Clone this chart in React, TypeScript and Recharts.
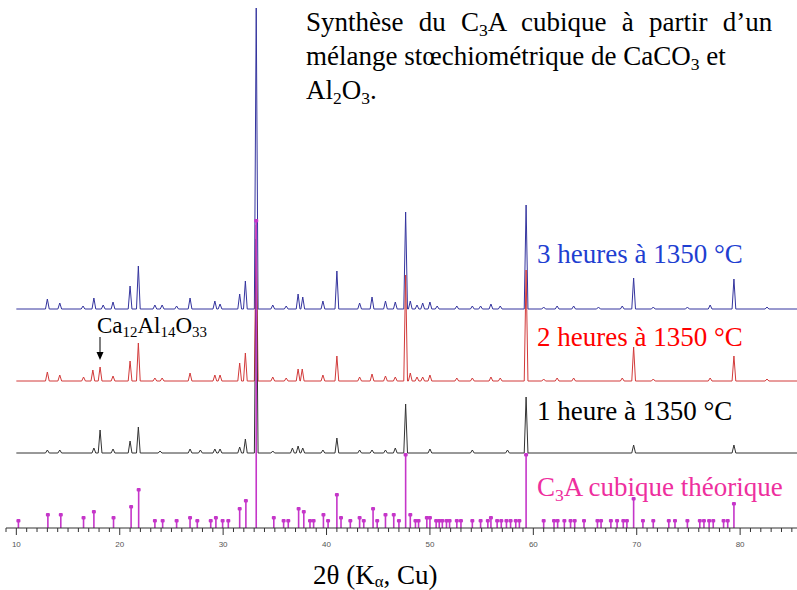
import React from "react";
import { ComposedChart, Line, Scatter, XAxis, YAxis } from "recharts";

// [2θ, height], heights above each pattern's own baseline
const bluePeaks = [
  [13.0, 10], [14.2, 6], [16.45, 3], [17.5, 11], [18.4, 4], [19.35, 7], [21.0, 23], [21.8, 43],
  [23.4, 4], [24.1, 4], [25.5, 3], [26.8, 11], [29.2, 8], [29.7, 5], [31.6, 15], [32.15, 28],
  [33.2, 301], [34.8, 4], [36.1, 3], [37.25, 15], [37.7, 12], [39.65, 8], [41.0, 38], [43.2, 6],
  [44.4, 12], [45.7, 8], [46.65, 7], [47.65, 97], [48.1, 8], [48.75, 4], [49.3, 6], [50.0, 7],
  [50.7, 3], [52.6, 3], [54.1, 3], [54.9, 3], [55.9, 5], [56.8, 3], [59.3, 104], [61.0, 2],
  [62.3, 3], [63.9, 3], [66.3, 2], [68.6, 3], [69.7, 31], [71.6, 2], [74.9, 2], [77.1, 4],
  [79.4, 30], [82.6, 2],
];

const redPeaks = [
  [13.0, 9], [14.2, 6], [16.5, 4], [17.4, 11], [18.1, 14], [19.35, 5], [21.0, 20], [21.8, 38],
  [23.4, 3], [24.1, 3], [26.8, 8], [29.2, 6], [29.7, 6], [31.6, 18], [32.15, 28], [33.2, 156],
  [34.8, 4], [36.1, 3], [37.25, 12], [37.65, 12], [39.65, 6], [41.0, 25], [43.2, 4], [44.4, 7],
  [45.7, 5], [46.65, 4], [47.65, 106], [48.1, 8], [48.75, 4], [49.3, 4], [50.0, 6], [52.6, 3],
  [54.1, 3], [55.9, 4], [56.8, 3], [59.3, 111], [61.0, 2], [62.3, 3], [63.9, 3], [68.6, 3],
  [69.7, 34], [71.6, 2], [77.1, 3], [79.4, 25], [82.6, 2],
];

const blackPeaks = [
  [13.0, 3], [14.2, 3], [17.5, 5], [18.1, 23], [19.35, 4], [21.0, 12], [21.8, 26], [23.9, 2],
  [26.8, 4], [27.8, 3], [29.2, 4], [29.7, 4], [31.6, 6], [32.15, 14], [33.2, 214], [34.8, 2],
  [36.7, 5], [37.25, 7], [37.7, 5], [39.65, 3], [41.0, 15], [43.2, 3], [44.4, 3], [45.7, 3],
  [46.65, 5], [47.65, 49], [50.0, 4], [54.1, 3], [57.5, 3], [59.3, 56], [69.7, 8], [79.4, 8],
];

// theoretical C3A stick pattern
const stickPeaks = [
  [10.2, 7], [13.05, 13], [14.3, 13], [16.5, 10], [17.5, 16], [19.4, 10], [21.1, 21], [21.83, 38],
  [23.4, 7], [24.15, 7], [25.5, 7], [26.8, 10], [27.5, 7], [28.8, 7], [29.3, 10], [29.95, 7],
  [30.5, 7], [31.6, 19], [32.2, 27], [33.2, 307], [34.9, 10], [35.85, 7], [36.3, 7], [37.3, 19],
  [37.8, 16], [38.4, 7], [38.75, 7], [39.7, 13], [40.15, 7], [41.0, 33], [41.4, 10], [42.3, 7],
  [43.2, 10], [43.6, 7], [44.5, 19], [44.9, 7], [45.7, 13], [46.5, 13], [47.0, 7], [47.65, 73],
  [48.1, 13], [48.6, 7], [48.9, 7], [49.7, 10], [50.0, 10], [50.6, 7], [50.9, 7], [51.2, 7],
  [51.6, 7], [51.9, 7], [52.6, 7], [53.0, 7], [54.1, 7], [54.9, 7], [55.6, 7], [55.9, 10],
  [56.5, 7], [56.9, 7], [57.4, 7], [57.8, 7], [58.3, 7], [58.65, 7], [59.3, 73], [61.0, 7],
  [62.0, 7], [62.35, 7], [63.0, 7], [63.6, 7], [64.0, 7], [64.9, 7], [66.2, 7], [66.55, 7],
  [67.5, 7], [68.1, 7], [68.7, 7], [69.05, 7], [69.7, 29], [70.6, 7], [71.6, 7], [73.1, 7],
  [73.7, 7], [74.9, 7], [76.1, 7], [76.5, 7], [77.0, 7], [77.4, 7], [78.4, 7], [78.8, 7],
  [79.4, 24],
];

const xTicks = Array.from({ length: 77 }, (_, i) => 9 + i);

// vertical offsets of the stacked patterns
const BLUE_OFF = 219;
const RED_OFF = 147;
const BLACK_OFF = 75;
const HALF = 0.18;
const X_MIN = 10;
const X_MAX = 85.5;

function buildTrace(peaks: number[][], offset: number) {
  const pts: { x: number; y: number }[] = [{ x: X_MIN, y: offset }];
  peaks.forEach(([p, h]) => {
    pts.push({ x: p - HALF, y: offset }, { x: p, y: offset + h }, { x: p + HALF, y: offset });
  });
  pts.push({ x: X_MAX, y: offset });
  return pts;
}

const blueData = buildTrace(bluePeaks, BLUE_OFF);
const redData = buildTrace(redPeaks, RED_OFF);
const blackData = buildTrace(blackPeaks, BLACK_OFF);
const stickData = stickPeaks.flatMap(([p, h]) => [
  { x: p, y: 0 },
  { x: p, y: h },
  { x: p, y: null },
]);
const stickTops = stickPeaks.map(([p, h]) => ({ x: p, y: h }));

const serif = '"Liberation Serif", "Times New Roman", serif';
const STICK = "#c536c9";

function Tick(props: any) {
  const { x, y, payload } = props;
  const major = payload.value % 10 === 0;
  return (
    <g>
      <line x1={x} x2={x} y1={y} y2={y + (major ? 7 : 4)} stroke="#333" />
      {major && (
        <text
          x={x}
          y={y + 19}
          textAnchor="middle"
          fontSize={8}
          fill="#555"
          fontFamily='"Liberation Sans", Arial, sans-serif'
        >
          {payload.value}
        </text>
      )}
    </g>
  );
}

function Dot(props: any) {
  const { cx, cy } = props;
  return <rect x={cx - 2} y={cy - 2} width={4} height={3.5} rx={1} fill={STICK} />;
}

const sub = { fontSize: "0.65em", verticalAlign: "-0.28em", lineHeight: 0 };
const subLow = { fontSize: "0.62em", verticalAlign: "-0.2em", lineHeight: 0 };

function Label({ left, top, color, children, size = 27, lh = 34 }: any) {
  return (
    <div
      style={{
        position: "absolute",
        left,
        top,
        color,
        fontFamily: serif,
        fontSize: size,
        lineHeight: `${lh}px`,
        whiteSpace: "nowrap",
      }}
    >
      {children}
    </div>
  );
}

export default function App() {
  return (
    <div style={{ position: "absolute", left: 0, top: 0, width: 797, height: 590, background: "#fff" }}>
      <ComposedChart width={797} height={590} margin={{ top: 8, right: 0, bottom: 0, left: 6 }}>
        <XAxis
          type="number"
          dataKey="x"
          domain={[9, 85.5]}
          allowDataOverflow
          ticks={xTicks}
          interval={0}
          tick={<Tick />}
          tickLine={false}
          tickSize={0}
          tickMargin={0}
          height={62}
          axisLine={{ stroke: "#333" }}
        />
        <YAxis hide type="number" domain={[0, 520]} allowDataOverflow />
        <Line data={blueData} dataKey="y" type="linear" stroke="#34349e" strokeWidth={1} dot={false} activeDot={false} isAnimationActive={false} />
        <Line data={redData} dataKey="y" type="linear" stroke="#d23a3a" strokeWidth={1} dot={false} activeDot={false} isAnimationActive={false} />
        <Line data={blackData} dataKey="y" type="linear" stroke="#333" strokeWidth={1} dot={false} activeDot={false} isAnimationActive={false} />
        <Line data={stickData} dataKey="y" type="linear" stroke={STICK} strokeWidth={1.6} dot={false} activeDot={false} connectNulls={false} isAnimationActive={false} />
        <Scatter data={stickTops} dataKey="y" shape={<Dot />} isAnimationActive={false} />
      </ComposedChart>

      <Label left={306} top={5}>
        <span style={{ wordSpacing: 8.5 }}>Synthèse du C<sub style={sub}>3</sub>A cubique à partir d’un</span>
        <br />
        mélange stœchiométrique de CaCO<sub style={sub}>3</sub> et
        <br />
        Al<sub style={sub}>2</sub>O<sub style={sub}>3</sub>.
      </Label>
      <Label left={537} top={237} color="#1f3fd1">3 heures à 1350 °C</Label>
      <Label left={537} top={320} color="#ff0000">2 heures à 1350 °C</Label>
      <Label left={537} top={394} color="#000">1 heure à 1350 °C</Label>
      <Label left={537} top={470} color="#ee2f9e">
        C<sub style={sub}>3</sub>A cubique théorique
      </Label>
      <Label left={97} top={311} color="#000" size={23} lh={30}>
        Ca<sub style={sub}>12</sub>Al<sub style={sub}>14</sub>O<sub style={sub}>33</sub>
      </Label>
      <Label left={313} top={562} color="#000" lh={26}>
        2θ (K<sub style={subLow}>α</sub>, Cu)
      </Label>

      <svg width={797} height={590} style={{ position: "absolute", left: 0, top: 0, pointerEvents: "none" }}>
        <line x1={100} x2={100} y1={337} y2={354} stroke="#000" strokeWidth={1} />
        <polygon points="96.5,352 103.5,352 100,360" fill="#000" />
      </svg>
    </div>
  );
}
